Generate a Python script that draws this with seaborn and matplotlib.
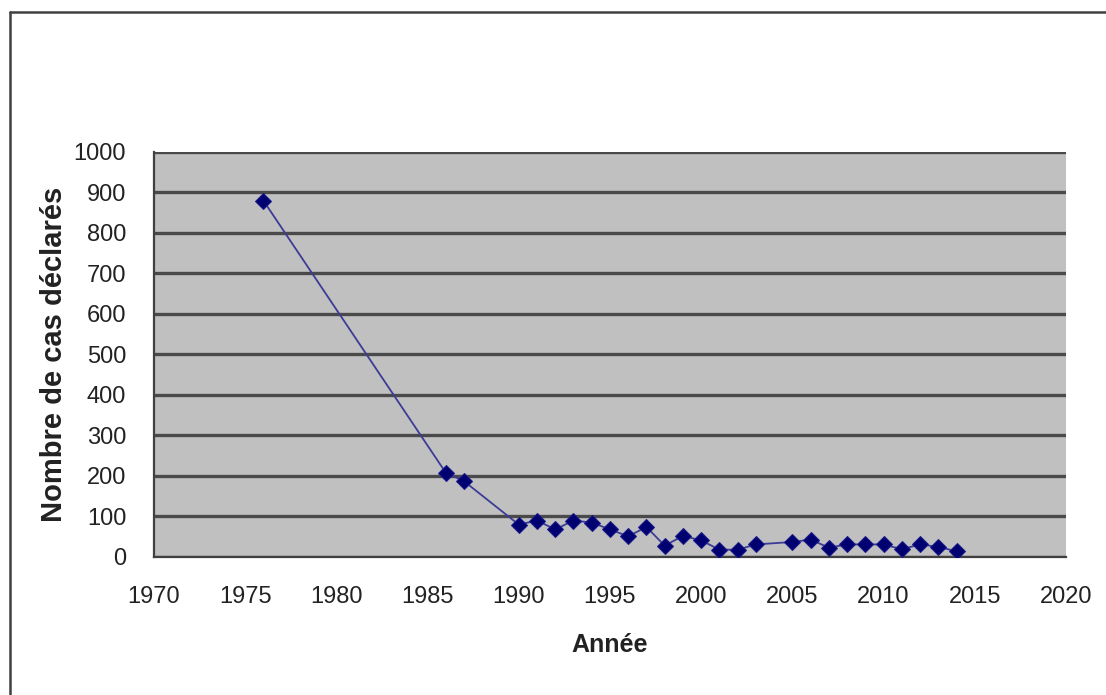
import matplotlib
matplotlib.use("Agg")
import matplotlib.pyplot as plt
from matplotlib.lines import Line2D
import seaborn as sns
import pandas as pd

# Reported cases per year
annees = [1976, 1986, 1987, 1990, 1991, 1992, 1993, 1994, 1995, 1996, 1997,
          1998, 1999, 2000, 2001, 2002, 2003, 2005, 2006, 2007, 2008, 2009,
          2010, 2011, 2012, 2013, 2014]
cas = [880, 208, 187, 80, 90, 68, 90, 85, 68, 51, 74,
       28, 52, 41, 18, 18, 31, 37, 43, 23, 31, 31,
       31, 19, 31, 25, 14]

x_ticks = [1970, 1975, 1980, 1985, 1990, 1995, 2000, 2005, 2010, 2015, 2020]
y_ticks = [0, 100, 200, 300, 400, 500, 600, 700, 800, 900, 1000]

x_label = "Année"
y_label = "Nombre de cas déclarés"

sns.set_theme(style="white")
fonts = ["Liberation Sans", "DejaVu Sans"]
plt.rcParams["font.family"] = fonts

df = pd.DataFrame({"annee": annees, "cas": cas})

fig = plt.figure(figsize=(11.06, 6.95), dpi=100)
ax = fig.add_axes([0.1392, 0.1986, 0.8246, 0.5827])
ax.set_facecolor("#c0c0c0")

# horizontal gridlines
for v in y_ticks:
    ax.axhline(v, color="#4a4a4a", lw=2.4, zorder=1)

sns.lineplot(data=df, x="annee", y="cas", ax=ax, sort=False,
             color="#3c3c96", lw=1.3, marker="D", markersize=8.5,
             markerfacecolor="#000070", markeredgecolor="#1a1a8a",
             zorder=3)

ax.set_xlim(1970, 2020)
ax.set_ylim(0, 1000)
ax.set_xticks(x_ticks)
ax.set_yticks(y_ticks)
ax.set_xticklabels([str(t) for t in x_ticks])
ax.set_yticklabels([str(t) for t in y_ticks])

ax.tick_params(axis="both", which="major", labelsize=17, colors="#303030",
               direction="out", length=7, width=1.5)
ax.tick_params(axis="x", pad=14)
ax.tick_params(axis="y", pad=13)
for lab in ax.get_xticklabels() + ax.get_yticklabels():
    lab.set_color("#222222")

for side in ["top", "right"]:
    ax.spines[side].set_visible(False)
for side in ["left", "bottom"]:
    ax.spines[side].set_color("#404040")
    ax.spines[side].set_linewidth(1.6)

ax.set_xlabel(x_label, fontsize=18, fontweight="bold",
              color="#222222", labelpad=18)
ax.set_ylabel(y_label, fontsize=21, fontweight="bold",
              color="#222222", labelpad=4)

# outer chart frame (top and left edges)
fig.add_artist(Line2D([10 / 1106, 1.0], [1 - 12 / 695, 1 - 12 / 695],
                      transform=fig.transFigure, color="#404040", lw=1.8))
fig.add_artist(Line2D([10 / 1106, 10 / 1106], [0.0, 1 - 12 / 695],
                      transform=fig.transFigure, color="#404040", lw=1.8))

fig.savefig("out.png", dpi=100)
